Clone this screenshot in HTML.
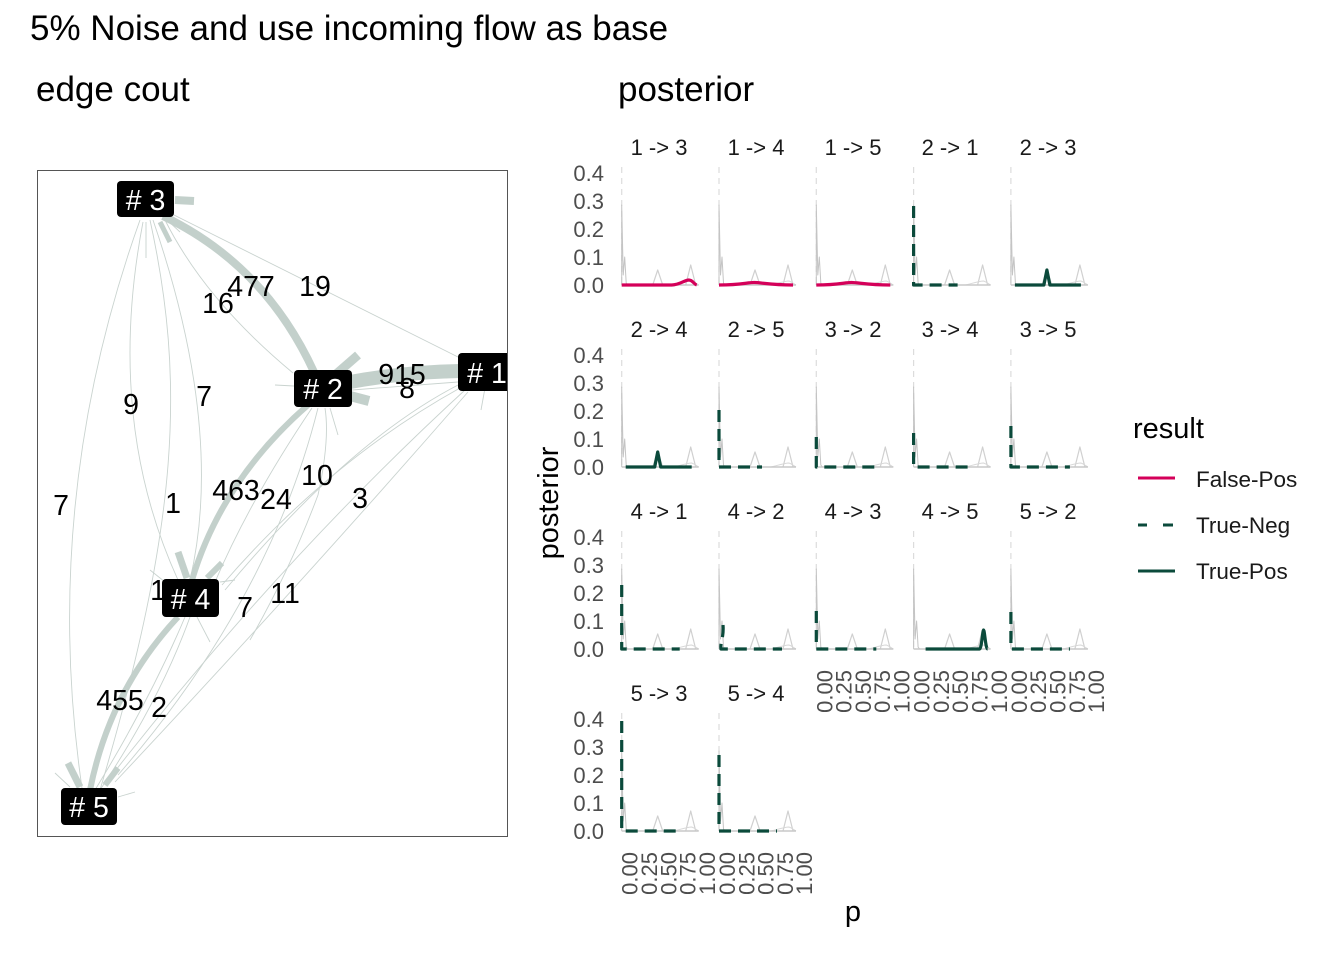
<!DOCTYPE html>
<html><head><meta charset="utf-8">
<style>
html,body{margin:0;padding:0;background:#fff;}
svg{display:block;}
text{font-family:"Liberation Sans",Arial,sans-serif;}
</style></head>
<body>
<svg width="1344" height="960" viewBox="0 0 1344 960" xmlns="http://www.w3.org/2000/svg">
<rect x="0" y="0" width="1344" height="960" fill="#fff"/>
<defs>
  <clipPath id="pc"><rect x="37" y="170" width="471" height="667"/></clipPath>
  <g id="bg" fill="none">
    <line x1="0" y1="-118" x2="0" y2="0" stroke="#dcdcdc" stroke-width="1.2" stroke-dasharray="6 5"/>
    <polyline points="0,0 0,-80 1.5,-10 3,-28 4.5,-2 6,0" stroke="#c4c4c4" stroke-width="1"/>
    <polyline points="31,0 36,-15 41,0" stroke="#d0d0d0" stroke-width="1.2"/>
    <polyline points="64,0 69,-20 74,0" stroke="#d0d0d0" stroke-width="1.2"/>
    <path d="M52,0 C60,-2 66,-4 70,-4 C73,-3 75,-1 77,0" stroke="#d8d8d8" stroke-width="1"/>
    <line x1="0" y1="0" x2="77" y2="0" stroke="#c8c8c8" stroke-width="1.5"/>
  </g>
</defs>

<!-- titles -->
<text x="30" y="40" font-size="35" fill="#000">5% Noise and use incoming flow as base</text>
<text x="36" y="101" font-size="35" fill="#000">edge cout</text>
<text x="618" y="101" font-size="35" fill="#000">posterior</text>

<!-- network panel -->
<g clip-path="url(#pc)">
  <!-- thin edges -->
  <g fill="none" stroke="#c9d3cf" stroke-width="0.9">
    <path d="M172 214 L458 357"/>
    <path d="M165 220 Q205 300 293 373"/>
    <path d="M140 220 Q40 500 82 788"/>
    <path d="M143 222 Q105 420 178 580"/>
    <path d="M153 220 Q225 430 190 580"/>
    <path d="M150 220 C185 380 180 520 100 790"/>
    <path d="M146 222 L146 258"/>
    <path d="M165 218 L180 232"/>
    <path d="M352 390 L458 382"/>
    <path d="M460 388 Q330 460 222 585"/>
    <path d="M465 390 Q280 560 112 775"/>
    <path d="M468 392 Q300 585 115 782"/>
    <path d="M460 384 Q350 440 225 590"/>
    <path d="M318 408 Q270 600 118 775"/>
    <path d="M312 408 Q250 500 215 582"/>
    <path d="M325 408 Q330 440 318 495 Q290 570 250 640"/>
    <path d="M330 408 L338 435"/>
    <path d="M275 385 L294 386"/>
    <path d="M481 410 L485 388"/>
    <path d="M190 617 Q160 700 100 790"/>
    <path d="M185 617 Q150 700 95 790"/>
    <path d="M150 570 L165 582"/>
    <path d="M220 582 L235 580"/>
    <path d="M197 617 L210 642"/>
    <path d="M55 773 L70 787"/>
    <path d="M118 797 L135 792"/>
    <path d="M440 372 L455 370"/>
    <path d="M445 378 L458 376"/>
  </g>
  <!-- thick edges -->
  <g fill="none" stroke="#c3d0cb" stroke-linecap="butt">
    <path d="M163 216 Q265 265 314 372" stroke-width="8"/>
    <path d="M460 371 Q405 372 350 382" stroke-width="14"/>
    <path d="M335 375 L358 355" stroke-width="9"/>
    <path d="M350 396 L369 401" stroke-width="10"/>
    <path d="M308 405 Q222 480 192 580" stroke-width="6"/>
    <path d="M178 552 L187 578" stroke-width="7"/>
    <path d="M207 578 L222 563" stroke-width="6"/>
    <path d="M178 617 Q110 690 90 790" stroke-width="6"/>
    <path d="M68 763 L80 787" stroke-width="7"/>
    <path d="M118 768 L105 785" stroke-width="6"/>
    <path d="M175 200 L194 201" stroke-width="8"/>
    <path d="M160 222 L170 242" stroke-width="5"/>
  </g>
  <!-- edge labels -->
  <g font-size="28.5" fill="#000" text-anchor="middle">
    <text x="251" y="296">477</text>
    <text x="315" y="296">19</text>
    <text x="218" y="313">16</text>
    <text x="402" y="384">915</text>
    <text x="407" y="398">8</text>
    <text x="131" y="414">9</text>
    <text x="204" y="406">7</text>
    <text x="61" y="515">7</text>
    <text x="173" y="513">1</text>
    <text x="236" y="500">463</text>
    <text x="276" y="509">24</text>
    <text x="317" y="485">10</text>
    <text x="360" y="508">3</text>
    <text x="158" y="600">1</text>
    <text x="245" y="617">7</text>
    <text x="285" y="603">11</text>
    <text x="120" y="710">455</text>
    <text x="159" y="717">2</text>
  </g>
  <!-- nodes -->
  <g>
    <rect x="117" y="181" width="57" height="36" rx="4" fill="#000"/>
    <rect x="294" y="370" width="58" height="37" rx="4" fill="#000"/>
    <rect x="458" y="353" width="58" height="38" rx="4" fill="#000"/>
    <rect x="162" y="579" width="57" height="38" rx="4" fill="#000"/>
    <rect x="61" y="788" width="56" height="37" rx="4" fill="#000"/>
  </g>
  <g font-size="28.5" fill="#fff" text-anchor="middle">
    <text x="145.5" y="210">#&#160;3</text>
    <text x="323" y="399">#&#160;2</text>
    <text x="487" y="383">#&#160;1</text>
    <text x="190.5" y="609">#&#160;4</text>
    <text x="89" y="817">#&#160;5</text>
  </g>
</g>
<rect x="37.5" y="170.5" width="470" height="666" fill="none" stroke="#555" stroke-width="1"/>

<!-- facet strip labels -->
<g font-size="22" fill="#1a1a1a" text-anchor="middle">
  <text x="659" y="155">1 -&gt; 3</text>
  <text x="756" y="155">1 -&gt; 4</text>
  <text x="853" y="155">1 -&gt; 5</text>
  <text x="950" y="155">2 -&gt; 1</text>
  <text x="1048" y="155">2 -&gt; 3</text>
  <text x="659" y="337">2 -&gt; 4</text>
  <text x="756" y="337">2 -&gt; 5</text>
  <text x="853" y="337">3 -&gt; 2</text>
  <text x="950" y="337">3 -&gt; 4</text>
  <text x="1048" y="337">3 -&gt; 5</text>
  <text x="659" y="519">4 -&gt; 1</text>
  <text x="756" y="519">4 -&gt; 2</text>
  <text x="853" y="519">4 -&gt; 3</text>
  <text x="950" y="519">4 -&gt; 5</text>
  <text x="1048" y="519">5 -&gt; 2</text>
  <text x="659" y="701">5 -&gt; 3</text>
  <text x="756" y="701">5 -&gt; 4</text>
</g>

<!-- y tick labels -->
<g font-size="22" fill="#4d4d4d" text-anchor="end">
  <text x="604" y="293">0.0</text><text x="604" y="265">0.1</text><text x="604" y="237">0.2</text><text x="604" y="209">0.3</text><text x="604" y="181">0.4</text>
  <text x="604" y="475">0.0</text><text x="604" y="447">0.1</text><text x="604" y="419">0.2</text><text x="604" y="391">0.3</text><text x="604" y="363">0.4</text>
  <text x="604" y="657">0.0</text><text x="604" y="629">0.1</text><text x="604" y="601">0.2</text><text x="604" y="573">0.3</text><text x="604" y="545">0.4</text>
  <text x="604" y="839">0.0</text><text x="604" y="811">0.1</text><text x="604" y="783">0.2</text><text x="604" y="755">0.3</text><text x="604" y="727">0.4</text>
</g>

<!-- panels -->
<g fill="none" stroke-width="3.2" stroke-linejoin="round">
  <!-- row 1 -->
  <g transform="translate(621.7,285)"><use href="#bg"/><path d="M0,0 L50,0 C58,0 63,-5 67,-5 C71,-5 72,-1 75,0" stroke="#d40059"/></g>
  <g transform="translate(719,285)"><use href="#bg"/><path d="M0,0 C22,0 28,-2.5 35,-2.5 C42,-2.5 52,0 74,0" stroke="#d40059"/></g>
  <g transform="translate(816.3,285)"><use href="#bg"/><path d="M0,0 C22,0 28,-2.5 35,-2.5 C42,-2.5 52,0 74,0" stroke="#d40059"/></g>
  <g transform="translate(913.6,285)"><use href="#bg"/><path d="M0,-79 L0,0 L44,0" stroke="#0b4a3b" stroke-dasharray="12 7"/></g>
  <g transform="translate(1010.9,285)"><use href="#bg"/><path d="M4,0 L33,0 L36,-15 L39,0 L70,0" stroke="#0b4a3b"/></g>
  <!-- row 2 -->
  <g transform="translate(621.7,467)"><use href="#bg"/><path d="M4,0 L33,0 L36,-15 L39,0 L70,0" stroke="#0b4a3b"/></g>
  <g transform="translate(719,467)"><use href="#bg"/><path d="M0,-57 L0,0 L43,0" stroke="#0b4a3b" stroke-dasharray="12 7"/></g>
  <g transform="translate(816.3,467)"><use href="#bg"/><path d="M0,-30 L0,0 L60,0" stroke="#0b4a3b" stroke-dasharray="12 7"/></g>
  <g transform="translate(913.6,467)"><use href="#bg"/><path d="M0,-34 L0,0 L58,0" stroke="#0b4a3b" stroke-dasharray="12 7"/></g>
  <g transform="translate(1010.9,467)"><use href="#bg"/><path d="M0,-41 L0,0 L59,0" stroke="#0b4a3b" stroke-dasharray="12 7"/></g>
  <!-- row 3 -->
  <g transform="translate(621.7,649)"><use href="#bg"/><path d="M0,-64 L0,0 L58,0" stroke="#0b4a3b" stroke-dasharray="12 7"/></g>
  <g transform="translate(719,649)"><use href="#bg"/><path d="M4,-24 C5,-12 1,-6 2,0 L63,0" stroke="#0b4a3b" stroke-dasharray="12 7"/></g>
  <g transform="translate(816.3,649)"><use href="#bg"/><path d="M0,-38 L0,0 L60,0" stroke="#0b4a3b" stroke-dasharray="12 7"/></g>
  <g transform="translate(913.6,649)"><use href="#bg"/><path d="M12,0 L66,0 C68,0 69,-19 70,-19 C71,-19 72,0 74,0" stroke="#0b4a3b"/></g>
  <g transform="translate(1010.9,649)"><use href="#bg"/><path d="M0,-37 L0,0 L59,0" stroke="#0b4a3b" stroke-dasharray="12 7"/></g>
  <!-- row 4 -->
  <g transform="translate(621.7,831)"><use href="#bg"/><path d="M0,-110 L0,0 L58,0" stroke="#0b4a3b" stroke-dasharray="12 7"/></g>
  <g transform="translate(719,831)"><use href="#bg"/><path d="M0,-76 L0,0 L58,0" stroke="#0b4a3b" stroke-dasharray="12 7"/></g>
</g>

<!-- x tick labels (rotated) -->
<g font-size="22" fill="#4d4d4d" text-anchor="end">
  <!-- row3 col3 -->
  <text transform="translate(832.3,670) rotate(-90)">0.00</text>
  <text transform="translate(851.6,670) rotate(-90)">0.25</text>
  <text transform="translate(870.9,670) rotate(-90)">0.50</text>
  <text transform="translate(890.2,670) rotate(-90)">0.75</text>
  <text transform="translate(909.5,670) rotate(-90)">1.00</text>
  <!-- row3 col4 -->
  <text transform="translate(929.6,670) rotate(-90)">0.00</text>
  <text transform="translate(948.9,670) rotate(-90)">0.25</text>
  <text transform="translate(968.2,670) rotate(-90)">0.50</text>
  <text transform="translate(987.5,670) rotate(-90)">0.75</text>
  <text transform="translate(1006.8,670) rotate(-90)">1.00</text>
  <!-- row3 col5 -->
  <text transform="translate(1026.9,670) rotate(-90)">0.00</text>
  <text transform="translate(1046.2,670) rotate(-90)">0.25</text>
  <text transform="translate(1065.5,670) rotate(-90)">0.50</text>
  <text transform="translate(1084.8,670) rotate(-90)">0.75</text>
  <text transform="translate(1104.1,670) rotate(-90)">1.00</text>
  <!-- row4 col1 -->
  <text transform="translate(637.7,852) rotate(-90)">0.00</text>
  <text transform="translate(657,852) rotate(-90)">0.25</text>
  <text transform="translate(676.3,852) rotate(-90)">0.50</text>
  <text transform="translate(695.6,852) rotate(-90)">0.75</text>
  <text transform="translate(714.9,852) rotate(-90)">1.00</text>
  <!-- row4 col2 -->
  <text transform="translate(735,852) rotate(-90)">0.00</text>
  <text transform="translate(754.3,852) rotate(-90)">0.25</text>
  <text transform="translate(773.6,852) rotate(-90)">0.50</text>
  <text transform="translate(792.9,852) rotate(-90)">0.75</text>
  <text transform="translate(812.2,852) rotate(-90)">1.00</text>
</g>

<!-- axis titles -->
<text transform="translate(558,503) rotate(-90)" font-size="29" fill="#000" text-anchor="middle">posterior</text>
<text x="853" y="921" font-size="29" fill="#000" text-anchor="middle">p</text>

<!-- legend -->
<text x="1133" y="438" font-size="29" fill="#000">result</text>
<line x1="1138" y1="478" x2="1175" y2="478" stroke="#d40059" stroke-width="3"/>
<line x1="1138" y1="525" x2="1147" y2="525" stroke="#0b4a3b" stroke-width="3"/>
<line x1="1163" y1="525" x2="1173" y2="525" stroke="#0b4a3b" stroke-width="3"/>
<line x1="1138" y1="571" x2="1175" y2="571" stroke="#0b4a3b" stroke-width="3"/>
<g font-size="22.5" fill="#1a1a1a">
  <text x="1196" y="487">False-Pos</text>
  <text x="1196" y="533">True-Neg</text>
  <text x="1196" y="579">True-Pos</text>
</g>
</svg>
</body></html>
